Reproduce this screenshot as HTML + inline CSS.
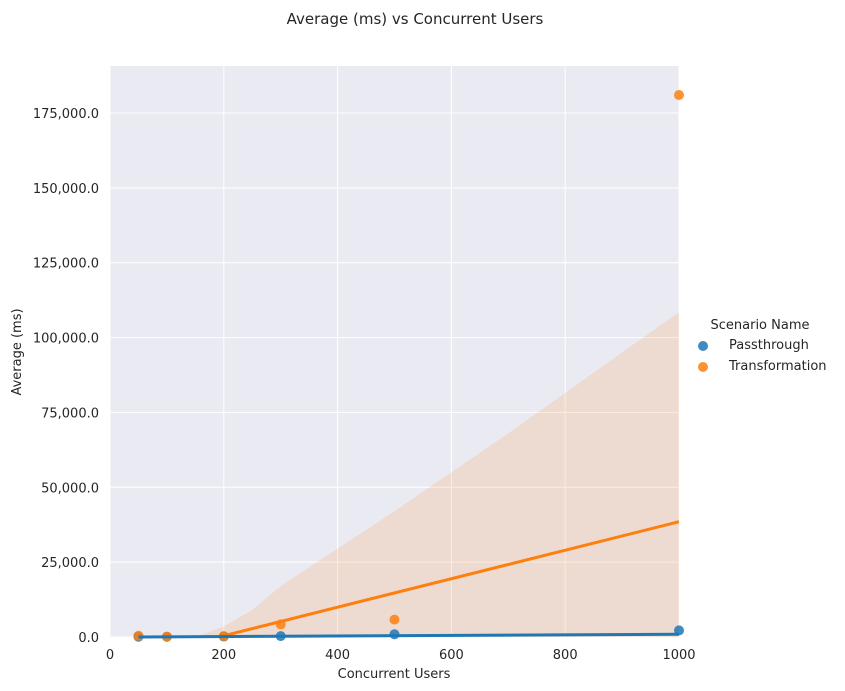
<!DOCTYPE html>
<html><head><meta charset="utf-8"><style>
html,body{margin:0;padding:0;background:#fff;overflow:hidden;width:845px;height:691px;font-family:"Liberation Sans","DejaVu Sans",sans-serif;}
svg{display:block;}
svg text{font-family:"DejaVu Sans","Liberation Sans",sans-serif;fill:#262626;}
</style></head><body>
<svg id="chart" width="845" height="691">
<text x="415" y="24" font-size="15" text-anchor="middle">Average (ms) vs Concurrent Users</text>
<rect x="110" y="66" width="569" height="571" fill="#eaeaf2"/>
<g id="grid"></g><g id="band"></g><g id="lines"></g><g id="points"></g><g id="ticks"></g>
<text x="394" y="678" font-size="13" text-anchor="middle">Concurrent Users</text>
<text transform="translate(21,352) rotate(-90)" font-size="13" text-anchor="middle">Average (ms)</text>
<g>
<text x="760" y="329" font-size="13" text-anchor="middle">Scenario Name</text>
<circle cx="703" cy="346" r="5" fill="#1f77b4" opacity="0.85"/>
<text x="729" y="349" font-size="13">Passthrough</text>
<circle cx="703" cy="367" r="5" fill="#ff7f0e" opacity="0.85"/>
<text x="729" y="370" font-size="13">Transformation</text>
</g>
</svg>
<script>
const users = [50, 100, 200, 300, 500, 1000];
const passthrough = [100, 80, 150, 300, 900, 2200];
const transformation = [400, 100, 300, 4200, 5800, 181000];
const passFitX = [50, 1000];
const passFitY = [0, 900];
const transFitX = [170, 1000];
const transFitY = [-1000, 38500];
const bandX = [50, 150, 200, 250, 300, 500, 700, 1000];
const bandUpper = [0, 0, 3500, 9000, 17000, 42000, 68000, 108500];
const bandLower = [-1000, -1000, -1000, -1000, -1000, -1000, -1000, -1000];
const xTicks = [0, 200, 400, 600, 800, 1000];
const yTicks = [0, 25000, 50000, 75000, 100000, 125000, 150000, 175000];

const X0 = 110, X1 = 679, Y0 = 637, Y1 = 66;
const xs = v => X0 + (v / 1000) * (X1 - X0);
const ys = v => Y0 - v * (524 / 175000);
const NS = "http://www.w3.org/2000/svg";
const svg = document.getElementById('chart');
function mk(tag, attrs, parent) { const e = document.createElementNS(NS, tag); for (const k in attrs) e.setAttribute(k, attrs[k]); parent.appendChild(e); return e; }

const defs = mk('defs', {}, svg);
const cp = mk('clipPath', {id: 'clip'}, defs);
mk('rect', {x: X0, y: Y1, width: X1 - X0, height: Y0 - Y1}, cp);

const grid = document.getElementById('grid');
const ticks = document.getElementById('ticks');
xTicks.forEach(t => {
  const l = mk('line', {x1: xs(t), x2: xs(t), y1: Y1, y2: Y0, stroke: '#fff', 'stroke-width': 1}, grid);
  
  
  const tx = mk('text', {x: xs(t), y: 659, 'font-size': 13, 'text-anchor': 'middle'}, ticks);
  tx.textContent = t;
  
  
});
yTicks.forEach(t => {
  const l = mk('line', {x1: X0, x2: X1, y1: ys(t), y2: ys(t), stroke: '#fff', 'stroke-width': 1}, grid);
  
  
  const tx = mk('text', {x: 99, y: ys(t) + 5, 'font-size': 13, 'text-anchor': 'end'}, ticks);
  tx.textContent = t.toLocaleString('en-US', {minimumFractionDigits: 1});
  
  
});

const band = document.getElementById('band');
band.setAttribute('clip-path', 'url(#clip)');
let pts = bandX.map((x, i) => xs(x) + ',' + ys(bandUpper[i]));
for (let i = bandX.length - 1; i >= 0; i--) pts.push(xs(bandX[i]) + ',' + ys(bandLower[i]));
const poly = mk('polygon', {points: pts.join(' '), fill: '#ff7f0e', 'fill-opacity': 0.15}, band);



const lines = document.getElementById('lines');
lines.setAttribute('clip-path', 'url(#clip)');
const lt = mk('line', {x1: xs(transFitX[0]), y1: ys(transFitY[0]), x2: xs(transFitX[1]), y2: ys(transFitY[1]), stroke: '#ff7f0e', 'stroke-width': 3}, lines);



const points = document.getElementById('points');
users.forEach((u, i) => {
  const c = mk('circle', {cx: xs(u), cy: ys(passthrough[i]), r: 5, fill: '#1f77b4', opacity: 0.85}, points);
  
  
});
users.forEach((u, i) => {
  const c = mk('circle', {cx: xs(u), cy: ys(transformation[i]), r: 5, fill: '#ff7f0e', opacity: 0.85}, points);
  
  
});
const lp = mk('line', {x1: xs(passFitX[0]), y1: ys(passFitY[0]), x2: xs(passFitX[1]), y2: ys(passFitY[1]), stroke: '#1f77b4', 'stroke-width': 3}, points);


</script>
</body></html>
